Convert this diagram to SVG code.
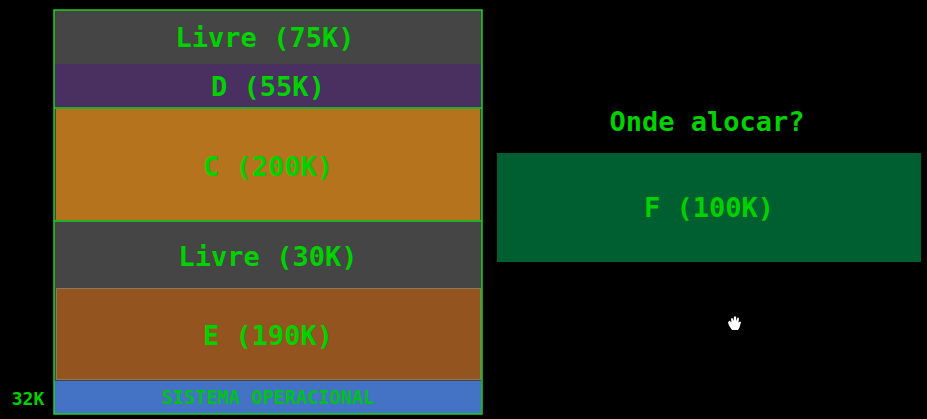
<svg xmlns="http://www.w3.org/2000/svg" width="927" height="419" viewBox="0 0 927 419">
<style>
text{font-family:"DejaVu Sans Mono","Liberation Mono",monospace;font-weight:700;fill:#00d200;text-anchor:middle}
.b{font-size:27px}
.s{font-size:18.600px;fill:#00c020}
.e{fill:none;stroke:#1ed01e;stroke-width:1.500}
</style>
<rect width="927" height="419" fill="#000"/>
<g id="memoria-borda">
<rect x="54" y="10" width="428" height="404" fill="#444"/>
</g>
<g id="livre-75k">
<rect x="55" y="11" width="426" height="53" fill="#454545"/>
<text class="b" x="265" y="46.500">Livre (75K)</text>
</g>
<g id="d-55k">
<rect x="55" y="64" width="426" height="44" fill="#4a3060"/>
<text class="b" x="268" y="95.500">D (55K)</text>
</g>
<g id="c-200k">
<rect x="56" y="109" width="424" height="111" fill="#b5731e"/>
<text class="b" x="268" y="175.500">C (200K)</text>
</g>
<g id="livre-30k">
<rect x="55" y="221" width="426" height="67" fill="#454545"/>
<text class="b" x="268" y="265.500">Livre (30K)</text>
</g>
<g id="e-190k">
<rect x="56.500" y="288.500" width="424" height="91" fill="#94541f" stroke="#8b7a55"/>
<text class="b" x="268" y="344.500">E (190K)</text>
</g>
<g id="sistema-operacional">
<rect x="54" y="381" width="427" height="33" fill="#4472c4"/>
<text class="s" x="268" y="404">SISTEMA OPERACIONAL</text>
</g>
<g id="bordas">
<rect class="e" x="54" y="10" width="428" height="404"/>
<path class="e" d="M54 108H482M54 221H482"/>
</g>
<g id="rotulo-32k"><text class="s" x="28" y="405" style="font-size:18px;fill:#00d200">32K</text></g>
<g id="pergunta"><text class="b" x="707" y="130.500">Onde alocar?</text></g>
<g id="f-100k">
<rect x="497" y="153" width="424" height="109" fill="#005f30"/>
<text class="b" x="709" y="216.500">F (100K)</text>
</g>
<g id="cursor">
<path d="M728 322.500l1.500-2 2 2-.5-4 1.500-.5 1 3 .5-4.500h2l.5 4.500 1-3.500 1.500.5-.5 4.500 1.500-1 1 .5-1.500 5.500-1.500 2.500h-6l-3-4.500z" fill="#fff"/>
</g>
</svg>
